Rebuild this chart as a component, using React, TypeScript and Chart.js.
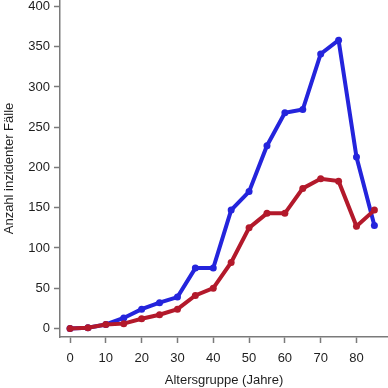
import React, { useEffect, useRef } from "react";
import { Chart, registerables } from "chart.js";

Chart.register(...registerables);

// Age groups (years) and incident case counts per group
const ageGroups = [0, 5, 10, 15, 20, 25, 30, 35, 40, 45, 50, 55, 60, 65, 70, 75, 80, 85];
const blueSeries = [0, 1, 5, 13, 24, 32, 39, 75, 75, 147, 170, 227, 268, 272, 341, 358, 213, 128];
const redSeries = [0, 1, 5, 6, 12, 17, 24, 41, 50, 82, 125, 143, 143, 174, 186, 183, 127, 147];

const xTickValues = [0, 10, 20, 30, 40, 50, 60, 70, 80];
const yTickValues = [0, 50, 100, 150, 200, 250, 300, 350, 400];

const xTitle = "Altersgruppe (Jahre)";
const yTitle = "Anzahl inzidenter Fälle";

const BLUE = "#2424dc";
const RED = "#b3192b";
const AXIS = "#7a7a7a";
const TEXT = "#1e1e1e";
const FONT = "'Liberation Sans', Arial, Helvetica, sans-serif";

export default function App() {
  const canvasRef = useRef<HTMLCanvasElement | null>(null);

  useEffect(() => {
    const canvas = canvasRef.current;
    if (!canvas) return;

    const toPoints = (vals: number[]) => ageGroups.map((x, i) => ({ x, y: vals[i] }));

    const chart = new Chart(canvas, {
      type: "line",
      data: {
        datasets: [
          {
            label: "rot",
            data: toPoints(redSeries),
            borderColor: RED,
            backgroundColor: RED,
            borderWidth: 4,
            pointRadius: 3.5,
            pointBorderWidth: 0,
            tension: 0,
            clip: false as any,
          },
          {
            label: "blau",
            data: toPoints(blueSeries),
            borderColor: BLUE,
            backgroundColor: BLUE,
            borderWidth: 4,
            pointRadius: 3.5,
            pointBorderWidth: 0,
            tension: 0,
            clip: false as any,
          },
        ],
      },
      options: {
        animation: false,
        responsive: false,
        maintainAspectRatio: false,
        layout: { padding: 0, autoPadding: false },
        plugins: {
          legend: { display: false },
          tooltip: { enabled: false },
        },
        scales: {
          x: {
            type: "linear",
            min: -2.8,
            max: 88.8,
            afterBuildTicks: (scale: any) => {
              scale.ticks = xTickValues.map((v) => ({ value: v }));
            },
            afterFit: (scale: any) => {
              scale.height = 51;
              scale.paddingLeft = 0;
              scale.paddingRight = 0;
            },
            border: { display: true, color: AXIS, width: 1.5 },
            grid: {
              drawOnChartArea: false,
              drawTicks: true,
              tickLength: 6,
              tickWidth: 1.5,
              color: AXIS,
            },
            ticks: {
              color: TEXT,
              font: { family: FONT, size: 13 },
              padding: 8,
              maxRotation: 0,
              autoSkip: false,
            },
            title: {
              display: true,
              text: xTitle,
              color: TEXT,
              font: { family: FONT, size: 13 },
              padding: { top: 2, bottom: 0 },
            },
          },
          y: {
            type: "linear",
            min: -10.6,
            max: 408,
            afterBuildTicks: (scale: any) => {
              scale.ticks = yTickValues.map((v) => ({ value: v }));
            },
            afterFit: (scale: any) => {
              scale.width = 60;
              scale.paddingTop = 0;
              scale.paddingBottom = 0;
            },
            border: { display: true, color: AXIS, width: 1.5 },
            grid: {
              drawOnChartArea: false,
              drawTicks: true,
              tickLength: 6,
              tickWidth: 1.5,
              color: AXIS,
            },
            ticks: {
              color: TEXT,
              font: { family: FONT, size: 13 },
              padding: 4,
              autoSkip: false,
            },
            title: {
              display: true,
              text: yTitle,
              color: TEXT,
              font: { family: FONT, size: 13 },
              padding: { top: 2, bottom: 0 },
            },
          },
        },
      },
    });

    return () => chart.destroy();
  }, []);

  return (
    <div style={{ position: "fixed", left: 0, top: 0, width: 388, height: 388, background: "#ffffff" }}>
      <canvas ref={canvasRef} width={388} height={388} style={{ display: "block" }} />
    </div>
  );
}
